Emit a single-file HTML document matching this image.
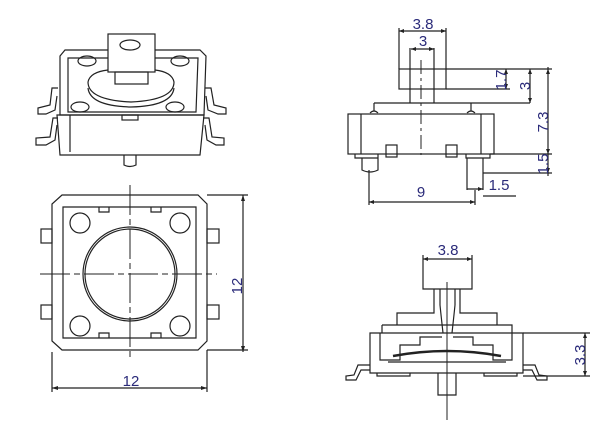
<!DOCTYPE html>
<html><head><style>
html,body{margin:0;padding:0;background:#fff;}
svg{display:block;}
text{font-family:"Liberation Sans",sans-serif;fill:#2b2b7a;font-size:15px;}
</style></head><body>
<svg width="600" height="426" viewBox="0 0 600 426" xmlns="http://www.w3.org/2000/svg">
<g fill="none" stroke="#222" stroke-width="1.2">
<!-- ISO view -->
<path d="M60,56 L65,50 L200,50 L206,56 L204,115 L60,115 Z"/>
<path d="M68,58 L198,58 L196,112 L68,112 Z"/>
<path d="M57,115 L204,115 L200,155 L60,155 Z"/>
<path d="M70,115 L70,152"/>
<rect x="108" y="34" width="47" height="38" fill="#fff"/>
<ellipse cx="130" cy="45" rx="10" ry="5"/>
<rect x="115" y="72" width="33" height="12"/>
<path d="M88,82 Q90,72 108,70 M155,70 Q172,72 174,82 Q174,100 131,102 Q88,100 88,82"/>
<path d="M88,88 Q90,106 131,107 Q172,106 174,88"/>
<ellipse cx="87" cy="61" rx="9" ry="5"/>
<ellipse cx="180" cy="61" rx="9" ry="5"/>
<ellipse cx="80" cy="107" rx="9" ry="5"/>
<ellipse cx="175" cy="107" rx="9" ry="5"/>
<rect x="122" y="115" width="16" height="5"/>
<path d="M124,155 L124,165 Q130,168 136,165 L136,155"/>
<path d="M58,88 L52,88 L50,105 L38,108 L38,114 L46,114 L55,110 L57,96"/>
<path d="M58,118 L53,118 L50,137 L36,138 L36,145 L46,145 L55,140 L57,125"/>
<path d="M205,88 L211,88 L214,105 L226,108 L226,114 L218,114 L208,110 L206,96"/>
<path d="M203,118 L209,118 L212,137 L224,138 L224,145 L216,145 L207,140 L205,125"/>
<!-- TOP view -->
<path d="M62,195 L198,195 L207,204 L207,341 L198,350 L62,350 L52,341 L52,204 Z"/>
<path d="M63,207 L196,207 L196,338 L63,338 Z"/>
<path d="M99,207 L99,212 L109,212 L109,207 M151,207 L151,212 L161,212 L161,207"/>
<path d="M99,338 L99,333 L109,333 L109,338 M151,338 L151,333 L161,333 L161,338"/>
<circle cx="130" cy="274" r="47"/>
<circle cx="130" cy="274" r="45"/>
<circle cx="80" cy="223" r="10"/><circle cx="180" cy="223" r="10"/>
<circle cx="80" cy="326" r="10"/><circle cx="180" cy="326" r="10"/>
<rect x="41" y="229" width="11" height="14"/><rect x="41" y="305" width="11" height="14"/>
<rect x="207" y="229" width="12" height="14"/><rect x="207" y="305" width="12" height="14"/>
<path d="M130,185 L130,358 M40,274 L217,274" stroke-width="1" stroke-dasharray="30,4,6,4"/>
<path d="M207,195 L248,195 M207,350 L248,350 M243,195 L243,352"/>
<path d="M52,352 L52,392 M207,350 L207,392 M52,388 L207,388"/>
<!-- SIDE view top-right -->
<rect x="399" y="69" width="47" height="20"/>
<path d="M410,48 L410,103 M434,48 L434,103"/>
<path d="M399,28 L399,69 M446,28 L446,69 M399,31 L446,31 M411,49 L434,49"/>
<path d="M421,60 L421,155" stroke-width="1" stroke-dasharray="14,4,3,4"/>
<path d="M374,103 L530,103 M374,103 L374,111 M471,103 L471,111"/>
<path d="M370,113 Q374,109 378,113 M467,113 Q471,109 475,113"/>
<rect x="348" y="114" width="146" height="40"/>
<path d="M361,114 L361,154 M481,114 L481,154"/>
<rect x="386" y="145" width="11" height="12"/><rect x="446" y="145" width="11" height="12"/>
<path d="M355,154 L355,158 L378,158 L378,154 M362,158 L362,170 Q370,174 378,170 L378,158"/>
<path d="M466,154 L466,158 L490,158 L490,154 M467,158 L467,190 M483,158 L483,190"/>
<path d="M446,69 L552,69 M490,154 L552,154 M483,173 L552,173"/>
<path d="M506,69 L506,89 M446,89 L510,89 M530,69 L530,103 M548,67 L548,176"/>
<path d="M369,170 L369,205 M475,190 L475,205 M369,202 L475,202"/>
<path d="M467,189 L483,189 M483,196 L516,196"/>
<!-- SIDE view bottom-right -->
<path d="M423,255 L423,289 L472,289 L472,255 M423,259 L472,259"/>
<path d="M434,289 L434,313 L397,313 L397,325 M460,289 L460,313 L497,313 L497,325"/>
<path d="M440,289 L440,305 Q441,315 443,333 M455,289 L455,305 Q454,315 452,333"/>
<path d="M447,282 L447,420" stroke-width="1"/>
<path d="M382,325 L512,325 L512,333 M382,325 L382,333"/>
<path d="M370,333 L523,333 L523,373 L370,373 Z"/>
<path d="M380,333 L380,360 L400,360 L400,345 L420,345 L420,337 L442,337 M512,333 L512,360 L493,360 L493,345 L473,345 L473,337 L453,337"/>
<path d="M393,356 Q447,346 501,356" stroke-width="2.5"/>
<path d="M388,362 L506,362"/>
<path d="M377,373 L377,376 L410,376 L410,373 M484,373 L484,376 L517,376 L517,373"/>
<path d="M438,373 L438,395 L456,395 L456,373"/>
<path d="M370,365 L358,365 L354,375 L346,376 L346,380 L356,380 L361,370 L370,370"/>
<path d="M523,365 L535,365 L539,375 L547,376 L547,380 L537,380 L532,370 L523,370"/>
<path d="M523,333 L590,333 M523,376 L590,376 M585,333 L585,376"/>
</g>
<g fill="#222">
<path d="M243,195 l-2,6 h4z M243,352 l-2,-6 h4z M52,388 l6,-2 v4z M207,388 l-6,-2 v4z"/>
<path d="M399,31 l5,-2 v4z M446,31 l-5,-2 v4z M411,49 l5,-2 v4z M434,49 l-5,-2 v4z"/>
<path d="M506,69 l-2,5 h4z M506,89 l-2,-5 h4z M530,69 l-2,5 h4z M530,103 l-2,-5 h4z M548,69 l-2,5 h4z M548,154 l-2,-5 h4z M548,173 l-2,-5 h4z"/>
<path d="M369,202 l5,-2 v4z M475,202 l-5,-2 v4z M483,189 l-5,-2 v4z"/>
<path d="M423,259 l5,-2 v4z M472,259 l-5,-2 v4z M585,333 l-2,5 h4z M585,376 l-2,-5 h4z"/>
</g>
<text x="131" y="386" text-anchor="middle" font-size="17">12</text>
<text transform="translate(242,286) rotate(-90)" text-anchor="middle" font-size="17">12</text>
<text x="423" y="29" text-anchor="middle" font-size="15">3.8</text>
<text x="423" y="46" text-anchor="middle" font-size="15">3</text>
<text transform="translate(506,80) rotate(-90)" text-anchor="middle" font-size="15">1.7</text>
<text transform="translate(530,86) rotate(-90)" text-anchor="middle" font-size="15">3</text>
<text transform="translate(548,122) rotate(-90)" text-anchor="middle" font-size="15">7.3</text>
<text transform="translate(548,164) rotate(-90)" text-anchor="middle" font-size="15">1.5</text>
<text x="499" y="190" text-anchor="middle" font-size="15">1.5</text>
<text x="421" y="197" text-anchor="middle" font-size="15">9</text>
<text x="448" y="255" text-anchor="middle" font-size="15">3.8</text>
<text transform="translate(585,355) rotate(-90)" text-anchor="middle" font-size="15">3.3</text>
</svg>
</body></html>
